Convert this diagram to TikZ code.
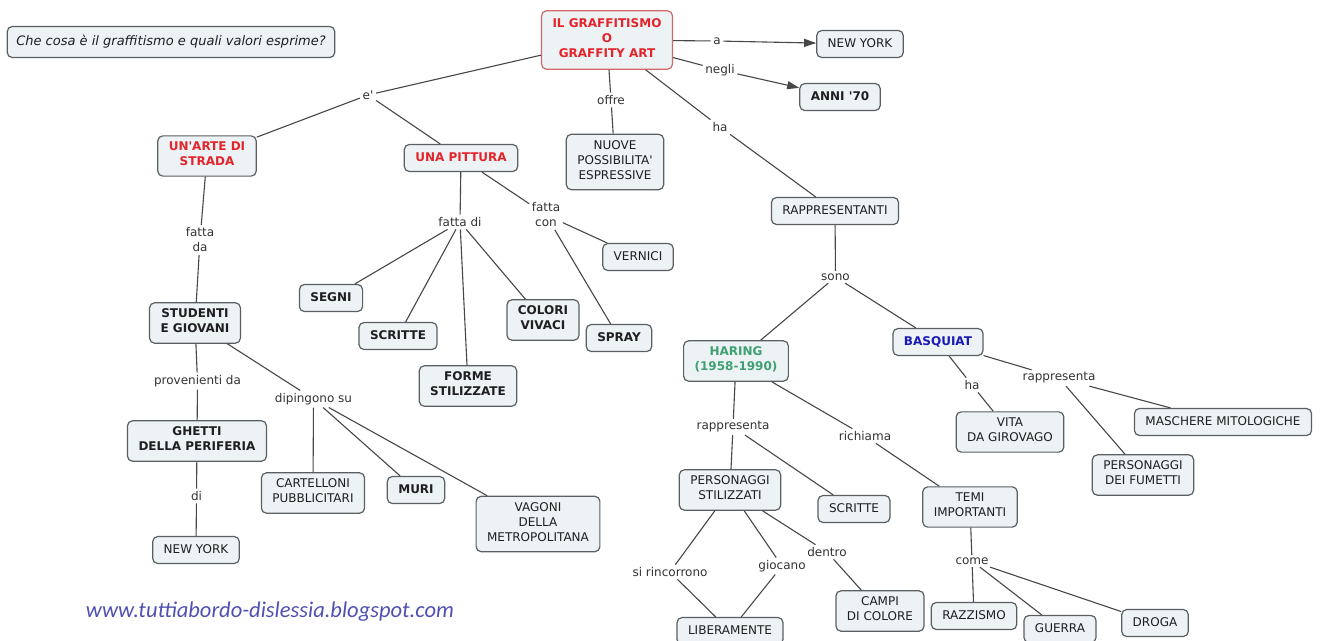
\documentclass[tikz,border=0pt]{standalone}
\usepackage{fontspec}
\setmainfont{DejaVu Sans}
\newfontfamily\webfont{Carlito}
\usetikzlibrary{arrows.meta}
\definecolor{boxc}{HTML}{EDF2F5}
\definecolor{bordc}{HTML}{5A5F63}
\definecolor{linec}{HTML}{474747}
\definecolor{labc}{HTML}{333333}
\definecolor{redt}{HTML}{E3242B}
\definecolor{redb}{HTML}{D06A6A}
\definecolor{greent}{HTML}{3FA073}
\definecolor{bluet}{HTML}{1A1AB5}
\definecolor{webc}{HTML}{5050B4}
\newcommand{\apo}{\textquotesingle}
\begin{document}
\fontsize{12}{15}\selectfont
\begin{tikzpicture}[x=1pt,y=-1pt,
  concept/.style={draw=bordc,fill=boxc,rounded corners=5pt,line width=1.2pt,align=center,
    inner xsep=11pt,inner ysep=6pt,text=black!88,
    execute at begin node=\strut,execute at end node=\strut},
  bconcept/.style={concept,font=\bfseries},
  lab/.style={text=labc,align=center,inner sep=2.5pt},
  conn/.style={draw=linec,line width=1.1pt}]
\fill[white](0,0)rectangle(1322,640);
\useasboundingbox(0,0)rectangle(1322,640);
\node[concept,font=\itshape\fontsize{13}{16}\selectfont,inner xsep=9pt,inner ysep=7.5pt](q)at(171,42){Che cosa è il graffitismo e quali valori esprime?};
\node[bconcept,draw=redb,text=redt,inner ysep=7.5pt](main)at(607,40){IL GRAFFITISMO\\O\\GRAFFITY ART};
\node[concept](nyA)at(860,44){NEW YORK};
\node[bconcept](anni)at(840,97){ANNI \apo70};
\node[concept](nuove)at(615,162){NUOVE\\POSSIBILITA\apo\\ESPRESSIVE};
\node[bconcept,text=redt](unarte)at(207,156){UN\apo ARTE DI\\STRADA};
\node[bconcept,text=redt](pittura)at(461,158){UNA PITTURA};
\node[concept](rappr)at(835,211){RAPPRESENTANTI};
\node[bconcept](stud)at(195,323){STUDENTI\\E GIOVANI};
\node[bconcept](segni)at(331,298){SEGNI};
\node[bconcept](scritteA)at(398,336){SCRITTE};
\node[bconcept](forme)at(468,386){FORME\\STILIZZATE};
\node[bconcept](colori)at(543,320){COLORI\\VIVACI};
\node[bconcept](spray)at(619,338){SPRAY};
\node[concept](vernici)at(638,257){VERNICI};
\node[bconcept,text=greent](haring)at(736,361){HARING\\(1958-1990)};
\node[bconcept,text=bluet](basq)at(938,342){BASQUIAT};
\node[bconcept](ghetti)at(197,441){GHETTI\\DELLA PERIFERIA};
\node[concept](cart)at(313,493){CARTELLONI\\PUBBLICITARI};
\node[bconcept](muri)at(416,490){MURI};
\node[concept](vagoni)at(538,524){VAGONI\\DELLA\\METROPOLITANA};
\node[concept](nyB)at(196,550){NEW YORK};
\node[concept](vita)at(1010,432){VITA\\DA GIROVAGO};
\node[concept](masch)at(1223,422){MASCHERE MITOLOGICHE};
\node[concept](fum)at(1143,475){PERSONAGGI\\DEI FUMETTI};
\node[concept](pers)at(730,490){PERSONAGGI\\STILIZZATI};
\node[concept](scritteB)at(854,509){SCRITTE};
\node[concept](temi)at(970,507){TEMI\\IMPORTANTI};
\node[concept](liber)at(730,631){LIBERAMENTE};
\node[concept](campi)at(880,611){CAMPI\\DI COLORE};
\node[concept](razz)at(974,616){RAZZISMO};
\node[concept](guerra)at(1060,629){GUERRA};
\node[concept](droga)at(1155,623){DROGA};
\node[lab](le)at(368,95){e\apo};
\node[lab](la)at(717,41){a};
\node[lab](lnegli)at(720,70){negli};
\node[lab](loffre)at(611,100){offre};
\node[lab](lha)at(720,127){ha};
\node[lab](lfda)at(200,240){fatta\\da};
\node[lab](lfdi)at(460,222){fatta di};
\node[lab](lfcon)at(546,215){fatta\\con};
\node[lab](lsono)at(835.5,277){sono};
\node[lab](lprov)at(197.5,381){provenienti da};
\node[lab](ldip)at(313.5,399){dipingono su};
\node[lab](ldi)at(196.5,496){di};
\node[lab](lhaB)at(972,385){ha};
\node[lab](lrapB)at(1059,378){rappresenta};
\node[lab](lrapA)at(733,427){rappresenta};
\node[lab](lrich)at(865,436){richiama};
\node[lab](lsir)at(670,572){si rincorrono};
\node[lab](lgioc)at(782,566){giocano};
\node[lab](ldentro)at(827,552){dentro};
\node[lab](lcome)at(972,561){come};
\node[font=\webfont\itshape\fontsize{22.5}{26}\selectfont,text=webc](web)at(270,612){www.tuttiabordo-dislessia.blogspot.com};
\foreach \a/\b in {main/le,le/unarte,le/pittura,main/loffre,loffre/nuove,main/lha,lha/rappr,
  unarte/lfda,lfda/stud,pittura/lfdi,lfdi/segni,lfdi/scritteA,lfdi/forme,lfdi/colori,
  pittura/lfcon,lfcon/vernici,lfcon/spray,stud/lprov,lprov/ghetti,ghetti/ldi,ldi/nyB,
  stud/ldip,ldip/cart,ldip/muri,ldip/vagoni,rappr/lsono,lsono/haring,lsono/basq,
  haring/lrapA,lrapA/pers,lrapA/scritteB,haring/lrich,lrich/temi,basq/lhaB,lhaB/vita,
  basq/lrapB,lrapB/masch,lrapB/fum,pers/lsir,lsir/liber,pers/lgioc,lgioc/liber,
  pers/ldentro,ldentro/campi,temi/lcome,lcome/razz,lcome/guerra,lcome/droga,main/la,main/lnegli}
  {\draw[conn](\a)--(\b);}
\foreach \a/\b in {la/nyA,lnegli/anni}{\draw[conn,-{Triangle[length=12pt,width=8pt]}](\a)--(\b);}
\end{tikzpicture}
\end{document}
